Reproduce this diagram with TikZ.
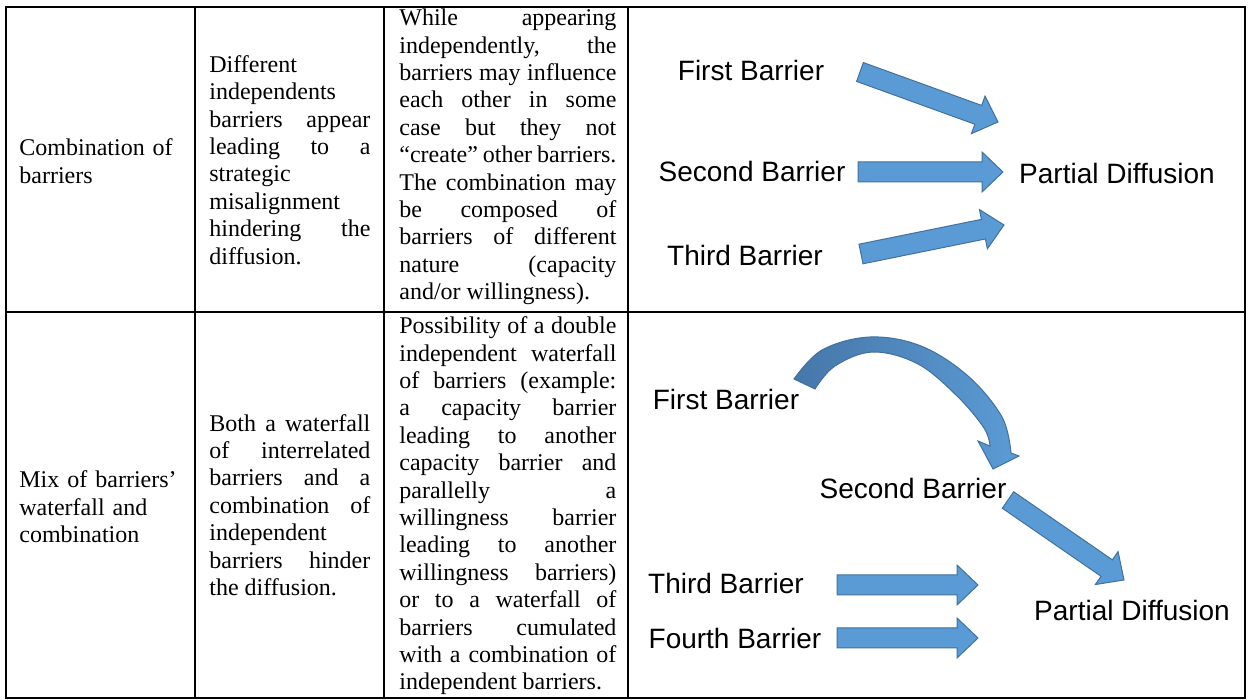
\documentclass[tikz,border=0pt]{standalone}
\usepackage{fontspec}
\setmainfont{Liberation Serif}
\newfontfamily\diagfont{Liberation Sans}
\usepackage{tikz}
\usetikzlibrary{calc}
\setlength{\parindent}{0pt}
\tolerance=10000
\hyphenpenalty=10000
\hbadness=10000

\definecolor{arrowblue}{HTML}{5B9BD5}
\definecolor{arrowedge}{HTML}{41719C}
\definecolor{arrowdark}{HTML}{4677A9}

\newcommand\shafthw{5pt}
\newcommand\headhw{10pt}
\newcommand\headlen{10.5pt}
\newcommand\blockarrow[2]{%
  \coordinate (hb) at ($(#2)!\headlen!(#1)$);
  \path [fatarrow] ($(#1)!\shafthw!90:(#2)$) -- ($(hb)!\shafthw!90:(#2)$)
    -- ($(hb)!\headhw!90:(#2)$) -- (#2) -- ($(hb)!\headhw!-90:(#2)$)
    -- ($(hb)!\shafthw!-90:(#2)$) -- ($(#1)!\shafthw!-90:(#2)$) -- cycle;}

\begin{document}
\begin{tikzpicture}[x=0.5pt, y=-0.5pt,
  grid/.style={line width=1pt},
  cell/.style={anchor=west, inner sep=0pt, font=\fontsize{12}{13.7}\selectfont},
  jcell/.style={cell, align=justify},
  lbl/.style={inner sep=0pt, font=\diagfont\fontsize{14}{16}\selectfont},
  fatarrow/.style={fill=arrowblue, draw=arrowedge, line width=0.5pt}]
\useasboundingbox (0,0) rectangle (1250,700);

\draw [grid] (6,7) rectangle (1245,698);
\draw [grid] (6,312) -- (1245,312);
\draw [grid] (195,7) -- (195,698);
\draw [grid] (384,7) -- (384,698);
\draw [grid] (628,7) -- (628,698);

\node (c11) [cell, text width=87pt, align=left] at (19,161) {Combination of\\barriers};
\node (c12) [jcell, text width=80.5pt] at (209,160) {Different\linebreak
  independents\linebreak barriers appear\linebreak leading to a\linebreak
  strategic\linebreak misalignment\linebreak hindering the\linebreak diffusion.};
\node (c13) [jcell, text width=108.5pt] at (399,157) {While appearing\linebreak
  independently, the\linebreak barriers may influence\linebreak
  each other in some\linebreak case but they not\linebreak
  “create” other barriers.\linebreak The combination may\linebreak
  be composed of\linebreak barriers of different\linebreak
  nature (capacity\linebreak and/or willingness).};

\node (c21) [cell, text width=87pt, align=left] at (19,507) {Mix of barriers’\\waterfall and\\combination};
\node (c22) [jcell, text width=80.5pt] at (209,505) {Both a waterfall\linebreak
  of interrelated\linebreak barriers and a\linebreak combination of\linebreak
  independent\linebreak barriers hinder\linebreak the diffusion.};
\node (c23) [jcell, text width=108.5pt] at (399,506) {Possibility of a double\linebreak
  independent waterfall\linebreak of barriers (example:\linebreak
  a capacity barrier\linebreak leading to another\linebreak
  capacity barrier and\linebreak parallelly a\linebreak
  willingness barrier\linebreak leading to another\linebreak
  willingness barriers)\linebreak or to a waterfall of\linebreak
  barriers cumulated\linebreak with a combination of\linebreak
  independent barriers.};

\node (fb1) [lbl] at (751,70) {First Barrier};
\node (sb1) [lbl] at (752,171) {Second Barrier};
\node (tb1) [lbl] at (745,255) {Third Barrier};
\node (pd1) [lbl] at (1117,173) {Partial Diffusion};

\coordinate (a1s) at (860,72);
\coordinate (a1e) at (998,122);
\coordinate (a2s) at (858,172);
\coordinate (a2e) at (1003,172);
\coordinate (a3s) at (861,254);
\coordinate (a3e) at (1004,225);
\blockarrow{a1s}{a1e}
\blockarrow{a2s}{a2e}
\blockarrow{a3s}{a3e}

\node (fb2) [lbl] at (726,399) {First Barrier};
\node (sb2) [lbl] at (913,488) {Second Barrier};
\node (tb2) [lbl] at (726,583) {Third Barrier};
\node (qb2) [lbl] at (735,638) {Fourth Barrier};
\node (pd2) [lbl] at (1132,610) {Partial Diffusion};

\path [draw=arrowedge, line width=0.5pt, left color=arrowdark, middle color=arrowdark!40!arrowblue, right color=arrowblue]
  plot [smooth, tension=0.6] coordinates {(794,379) (822,350) (870,337) (921,346) (968,376) (1002,417) (1011,453)}
  -- (1019,456) -- (993,469) -- (978,441)
  -- plot [smooth, tension=0.6] coordinates {(990,446) (984,428) (957,396) (918,364) (873,352) (835,366) (815,389)}
  -- cycle;

\coordinate (b2s) at (1008,500);
\coordinate (b2e) at (1124,580);
\coordinate (b3s) at (837,585);
\coordinate (b3e) at (978,585);
\coordinate (b4s) at (837,638);
\coordinate (b4e) at (978,638);
\blockarrow{b2s}{b2e}
\blockarrow{b3s}{b3e}
\blockarrow{b4s}{b4e}
\end{tikzpicture}
\end{document}
